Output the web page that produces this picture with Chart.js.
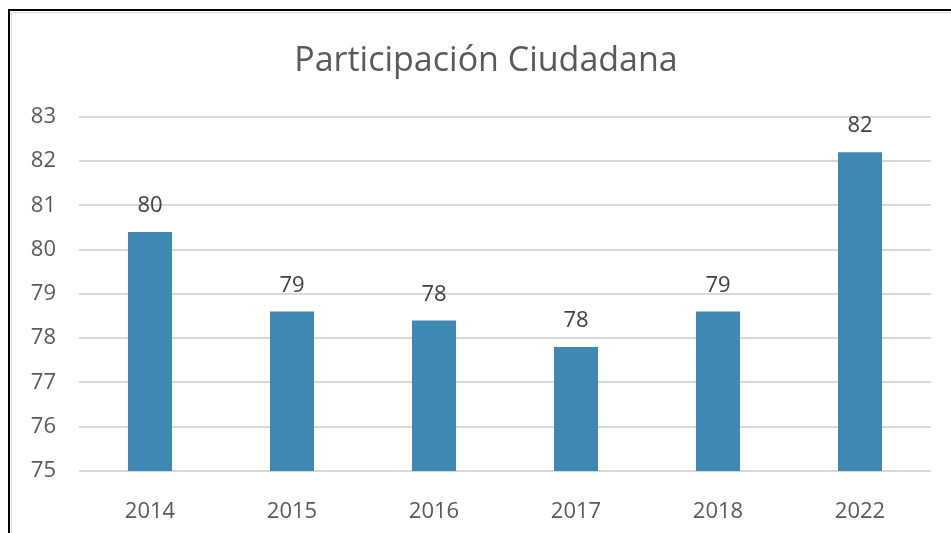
<!DOCTYPE html>
<html><head><meta charset="utf-8">
<script src="https://cdn.jsdelivr.net/npm/chart.js@4"></script>
<style>
html,body{margin:0;padding:0;background:#fff;}
#wrap{position:absolute;left:0;top:0;width:951px;height:533px;}
#frame{position:absolute;left:8px;top:9px;right:-10px;bottom:-10px;border-left:2px solid #000;border-top:2px solid #000;pointer-events:none;}
#frame2{position:absolute;left:11px;top:12px;right:-10px;bottom:-10px;border-left:1px solid #d9d9d9;border-top:1px solid #d9d9d9;pointer-events:none;}
</style></head>
<body>
<div id="wrap"><canvas id="c" width="951" height="533"></canvas></div>
<div id="frame"></div><div id="frame2"></div>
<script>
const categories = ["2014","2015","2016","2017","2018","2022"];
const values = [80.4, 78.6, 78.4, 77.8, 78.6, 82.2];
const yTicks = [75,76,77,78,79,80,81,82,83];
const titleText = 'Participación Ciudadana';

const labelPlugin = {
  id:'vals',
  afterDatasetsDraw(chart){
    const ctx = chart.ctx;
    const meta = chart.getDatasetMeta(0);
    ctx.save();
    ctx.font = '22px "Open Sans"';
    ctx.fillStyle = '#404040';
    ctx.textAlign = 'center';
    ctx.textBaseline = 'middle';
    meta.data.forEach((bar,i)=>{
      ctx.fillText(Math.round(values[i]).toString(), bar.x, bar.y - 26);
    });
    // title, centred like the reference
    const tb = chart.titleBlock;
    ctx.font = '34px "Open Sans"';
    ctx.fillStyle = '#595959';
    ctx.fillText(titleText, 486, tb.top + 41 + 34*1.2/2);
    ctx.restore();
  }
};

new Chart(document.getElementById('c'), {
  type:'bar',
  data:{labels:categories, datasets:[{data:values, backgroundColor:'#3f88b4', barPercentage:0.31, categoryPercentage:1.0}]},
  options:{
    responsive:false, animation:false,
    layout:{padding:{left:0,right:20,top:0,bottom:0}},
    plugins:{
      legend:{display:false}, tooltip:{enabled:false},
      title:{display:true, text:titleText, color:'rgba(0,0,0,0)', font:{family:'"Open Sans"', size:34, weight:'normal'}, padding:{top:41,bottom:35}}
    },
    scales:{
      x:{grid:{display:false}, border:{display:false},
         ticks:{color:'#595959', font:{family:'"Open Sans"', size:22}, padding:20},
         afterFit(s){ s.height = 62; }},
      y:{min:75,max:83, border:{display:false},
         grid:{color:'#d9d9d9', lineWidth:2, drawTicks:false},
         afterBuildTicks(s){ s.ticks = yTicks.map(v=>({value:v})); },
         ticks:{color:'#595959', font:{family:'"Open Sans"', size:22}, padding:23},
         afterFit(s){ s.width = 79; }}
    }
  },
  plugins:[labelPlugin]
});
</script>
</body></html>
